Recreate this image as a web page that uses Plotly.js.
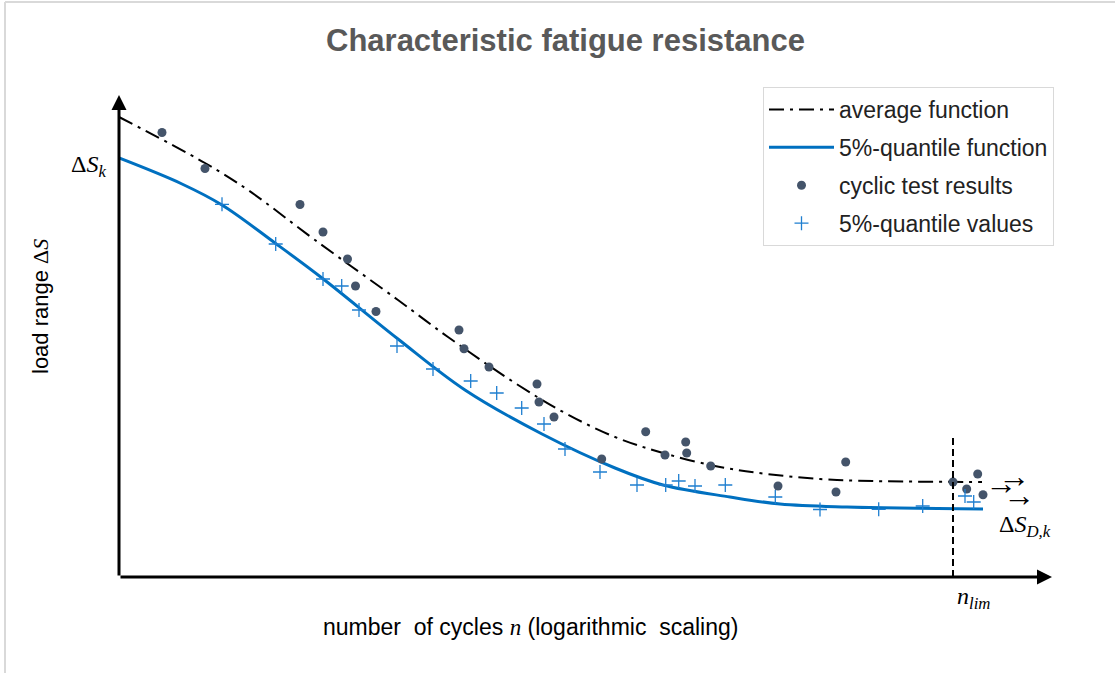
<!DOCTYPE html>
<html><head><meta charset="utf-8">
<script src="https://cdn.plot.ly/plotly-3.0.1.min.js"></script>
<style>html,body{margin:0;padding:0;background:#fff;}</style>
</head><body><div id="chart" style="width:1115px;height:673px;"></div>
<script>
// log-cycle position (arbitrary units) and load range (arbitrary units)
const avgX = [0, 86, 129, 196, 279, 329, 396, 446, 496, 544, 601, 648, 701, 754, 863];
const avgY = [460, 414, 387, 337, 277, 240, 194, 164, 140, 124, 110, 103, 98, 96, 95];

const quantX = [0, 63, 103, 156, 203, 279, 346, 423, 496, 544, 611, 661, 728, 864];
const quantY = [419, 393, 372, 334, 299, 238, 187, 143, 109, 92, 80, 73, 70, 68];

const testX = [43, 86, 181, 204, 228.5, 236.5, 257, 340, 345, 370, 418, 420, 435, 482.7, 526.7, 546, 566.7, 567.7, 591.7, 659, 717, 726.7, 834, 847.7, 858.7, 864];
const testY = [444.5, 408.5, 372.5, 345, 318, 291, 265.5, 247, 228.3, 210, 193, 175, 160, 118, 145.3, 122, 135, 124, 111, 91, 85, 115, 95, 88, 103, 82.3];

const qvalX = [103, 156.7, 204, 222.7, 240, 278, 314, 351.7, 377.7, 402.7, 425, 446, 481, 518, 546.7, 559.7, 576, 606.3, 656.3, 701, 759.7, 803.7, 846, 854.7];
const qvalY = [372.7, 333, 298, 291, 267, 231, 208, 196, 184, 169, 153, 128, 105, 92, 92, 96, 91, 92, 80, 67.5, 67.7, 71, 81, 75];

const nLim = 834;          // limit number of cycles position
const nLimLineTop = 142;   // top of the n_lim marker line
const xMax = 933, yMax = 482;

const legendNames = ['average function', '5%-quantile function', 'cyclic test results', '5%-quantile values'];

const sans = 'Liberation Sans, Arial, sans-serif';
const serif = 'Liberation Serif, Times New Roman, serif';

const traces = [
  {x: avgX, y: avgY, type: 'scatter', mode: 'lines', name: legendNames[0], legendgroup: 'a',
   line: {color: '#000', width: 2, dash: '15px,6px,3px,6px', shape: 'spline', smoothing: 1}},
  {x: quantX, y: quantY, type: 'scatter', mode: 'lines', name: legendNames[1], legendgroup: 'b',
   line: {color: '#0070C0', width: 3, shape: 'spline', smoothing: 1}},
  {x: testX, y: testY, type: 'scatter', mode: 'markers', name: legendNames[2], legendgroup: 'c',
   marker: {color: '#44546A', size: 9, symbol: 'circle'}},
  {x: qvalX, y: qvalY, type: 'scatter', mode: 'markers', name: legendNames[3], legendgroup: 'd',
   marker: {color: '#1f7fd0', size: 10, symbol: 'cross-thin', line: {color: '#1f7fd0', width: 1.3}}}
];

const px = v => (v - 119) / 933;   // helpers for paper coords of frame items
const py = v => (577 - v) / 482;

const layout = {
  width: 1115, height: 673,
  margin: {l: 119, r: 63, t: 95, b: 96, pad: 0},
  paper_bgcolor: '#fff', plot_bgcolor: '#fff',
  title: {text: '<b>Characteristic fatigue resistance</b>',
          font: {family: sans, size: 31, color: '#595959'},
          x: px(565.5), xref: 'paper', xanchor: 'center', y: 1 - 40 / 673, yref: 'container', yanchor: 'middle'},
  xaxis: {range: [0, xMax], visible: false, fixedrange: true},
  yaxis: {range: [0, yMax], visible: false, fixedrange: true},
  showlegend: true,
  legend: {x: px(763), y: py(87), xanchor: 'left', yanchor: 'top', bgcolor: '#fff',
           bordercolor: '#d9d9d9', borderwidth: 1, font: {family: sans, size: 23, color: '#222'},
           tracegroupgap: 5, itemwidth: 65, traceorder: 'grouped'},
  shapes: [
    {type: 'line', xref: 'paper', yref: 'paper', x0: px(5), x1: px(5), y0: py(2), y1: py(673), line: {color: '#d9d9d9', width: 2}},
    {type: 'line', xref: 'paper', yref: 'paper', x0: px(5), x1: px(1115), y0: py(2), y1: py(2), line: {color: '#d9d9d9', width: 2}},
    {type: 'line', xref: 'x', yref: 'y', x0: nLim, x1: nLim, y0: 0, y1: nLimLineTop, line: {color: '#000', width: 2, dash: '7px,4px'}}
  ],
  annotations: [
    {xref: 'x', yref: 'y', axref: 'x', ayref: 'y', x: xMax, y: 0, ax: 0, ay: 0, text: '', showarrow: true,
     arrowhead: 2, arrowsize: 1, arrowwidth: 3, arrowcolor: '#000', standoff: 0},
    {xref: 'x', yref: 'y', axref: 'x', ayref: 'y', x: 0, y: yMax, ax: 0, ay: 0, text: '', showarrow: true,
     arrowhead: 2, arrowsize: 1, arrowwidth: 3, arrowcolor: '#000', standoff: 0},
    {xref: 'paper', yref: 'paper', x: px(108), y: py(166), xanchor: 'right', yanchor: 'middle', showarrow: false,
     text: 'Δ<i>S</i><sub><i>k</i></sub>', font: {family: serif, size: 24, color: '#000'}},
    {xref: 'paper', yref: 'paper', x: px(40), y: py(307), xanchor: 'center', yanchor: 'middle', textangle: -90, showarrow: false,
     text: 'load range <span style="font-family:Liberation Serif">Δ<i>S</i></span>', font: {family: sans, size: 22, color: '#000'}},
    {xref: 'paper', yref: 'paper', x: px(530), y: py(627), xanchor: 'center', yanchor: 'middle', showarrow: false,
     text: 'number  of cycles <span style="font-family:Liberation Serif"><i>n</i></span> (logarithmic  scaling)', font: {family: sans, size: 23, color: '#000'}},
    {xref: 'paper', yref: 'paper', x: px(973), y: py(598), xanchor: 'center', yanchor: 'middle', showarrow: false,
     text: '<i>n</i><sub><i>lim</i></sub>', font: {family: serif, size: 24, color: '#000'}},
    {xref: 'paper', yref: 'paper', x: px(1025), y: py(526), xanchor: 'center', yanchor: 'middle', showarrow: false,
     text: 'Δ<i>S</i><sub><i>D,k</i></sub>', font: {family: serif, size: 24, color: '#000'}},
    {xref: 'paper', yref: 'paper', x: px(1001), y: py(483), xanchor: 'center', yanchor: 'middle', showarrow: false,
     text: '→', font: {family: serif, size: 32, color: '#000'}},
    {xref: 'paper', yref: 'paper', x: px(1014), y: py(476), xanchor: 'center', yanchor: 'middle', showarrow: false,
     text: '→', font: {family: serif, size: 32, color: '#000'}},
    {xref: 'paper', yref: 'paper', x: px(1019), y: py(495), xanchor: 'center', yanchor: 'middle', showarrow: false,
     text: '→', font: {family: serif, size: 32, color: '#000'}}
  ]
};

Plotly.newPlot('chart', traces, layout, {displayModeBar: false, staticPlot: true});
</script></body></html>
